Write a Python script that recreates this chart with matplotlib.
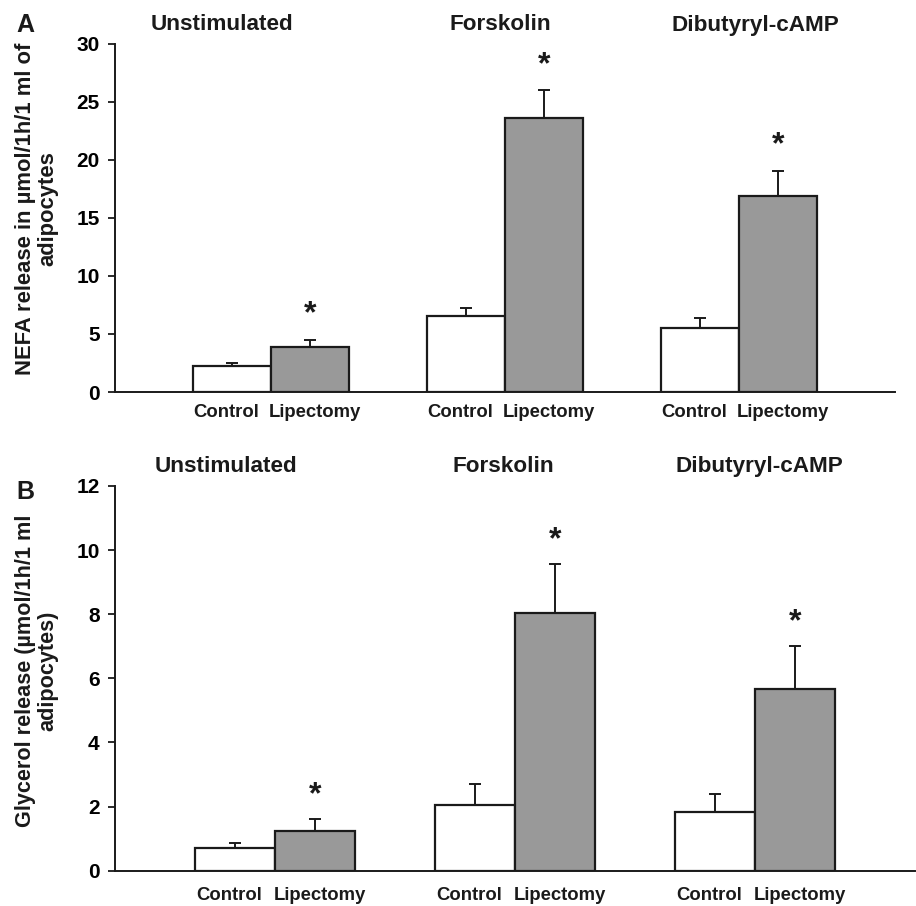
import matplotlib
matplotlib.use("Agg")
import matplotlib.pyplot as plt
import matplotlib.transforms as mtransforms
import numpy as np

plt.rcParams['font.family'] = ['Liberation Sans', 'DejaVu Sans']
plt.rcParams['font.weight'] = 'bold'

groups = ["Unstimulated", "Forskolin", "Dibutyryl-cAMP"]
bar_labels = ["Control", "Lipectomy"]

nefa_control = [2.2, 6.5, 5.5]
nefa_control_sem = [0.3, 0.7, 0.9]
nefa_lipectomy = [3.9, 23.6, 16.9]
nefa_lipectomy_sem = [0.6, 2.4, 2.15]

gly_control = [0.7, 2.05, 1.84]
gly_control_sem = [0.15, 0.65, 0.55]
gly_lipectomy = [1.25, 8.04, 5.67]
gly_lipectomy_sem = [0.36, 1.52, 1.33]

W, H = 916, 906
fig = plt.figure(figsize=(W / 100, H / 100), dpi=100)

GREY = "#999999"
EDGE = "#1a1a1a"


def px_axes(l, t, r, b):
    return fig.add_axes([l / W, 1 - b / H, (r - l) / W, (b - t) / H])


def draw_panel(ax, ctrl, ctrl_sem, lip, lip_sem, ymax, ystep, ylabel, ylab_y, ylab_fs, title_y, title_xs,
               letter, letter_y, star_off, xlab_drop):
    x = np.arange(1, len(groups) + 1)
    w = 1 / 3
    ax.bar(x - w / 2, ctrl, width=w, color="white", edgecolor=EDGE, linewidth=1.6, zorder=3)
    ax.bar(x + w / 2, lip, width=w, color=GREY, edgecolor=EDGE, linewidth=1.6, zorder=3)
    ax.errorbar(x - w / 2, ctrl, yerr=[np.zeros(len(ctrl)), ctrl_sem], fmt="none",
                ecolor=EDGE, elinewidth=1.4, capsize=4, capthick=1.4, zorder=2)
    ax.errorbar(x + w / 2, lip, yerr=[np.zeros(len(lip)), lip_sem], fmt="none",
                ecolor=EDGE, elinewidth=1.4, capsize=4, capthick=1.4, zorder=2)
    for xi, v, s in zip(x + w / 2, lip, lip_sem):
        ax.annotate("*", xy=(xi, v + s), xytext=(0, star_off), textcoords="offset points",
                    ha="center", va="center", fontsize=23, fontweight="bold", color=EDGE)
    ax.set_xlim(1 / 3, 11 / 3)
    ax.set_ylim(0, ymax)
    yt = np.arange(0, ymax + 0.01, ystep)
    ax.set_yticks(yt)
    ax.set_yticklabels([f"{int(v)}" for v in yt], fontsize=15, fontweight="bold")
    ax.set_xticks([])
    base = ax.get_xaxis_transform()
    for xi in x:
        for pos, lab, dx in [(xi - w / 2, bar_labels[0], -6), (xi + w / 2, bar_labels[1], 5)]:
            tr = base + mtransforms.ScaledTranslation(dx / 100, -xlab_drop / 100, fig.dpi_scale_trans)
            ax.text(pos, 0, lab, transform=tr, ha="center", va="baseline",
                    fontsize=13.3, fontweight="bold", color=EDGE, clip_on=False)
    ax.tick_params(axis="y", length=5, width=1.3, pad=6, direction="out", color=EDGE)
    for s in ["top", "right"]:
        ax.spines[s].set_visible(False)
    for s in ["left", "bottom"]:
        ax.spines[s].set_linewidth(1.4)
        ax.spines[s].set_color(EDGE)
    fig.text(37 / W, 1 - ylab_y / H, ylabel, rotation=90, ha="center", va="center",
             multialignment="center", fontsize=ylab_fs, fontweight="bold", linespacing=1.1, color=EDGE)
    for g, tx in zip(groups, title_xs):
        fig.text(tx / W, 1 - title_y / H, g, ha="center", va="center", fontsize=16.2, fontweight="bold", color=EDGE)
    fig.text(25 / W, 1 - letter_y / H, letter, ha="center", va="center", fontsize=18, fontweight="bold", color=EDGE)


ax1 = px_axes(115, 43.5, 895, 392)
draw_panel(ax1, nefa_control, nefa_control_sem, nefa_lipectomy, nefa_lipectomy_sem, 30, 5,
           "NEFA release in µmol/1h/1 ml of\nadipocytes", 209, 15.8, 25, [222, 500, 755], "A", 25, 18, 25)

ax2 = px_axes(115, 486, 915, 870.7)
draw_panel(ax2, gly_control, gly_control_sem, gly_lipectomy, gly_lipectomy_sem, 12, 2,
           "Glycerol release (µmol/1h/1 ml\nadipocytes)", 671, 15.6, 467, [226, 503, 759], "B", 492, 17, 29)

fig.savefig("out.png", dpi=100)
